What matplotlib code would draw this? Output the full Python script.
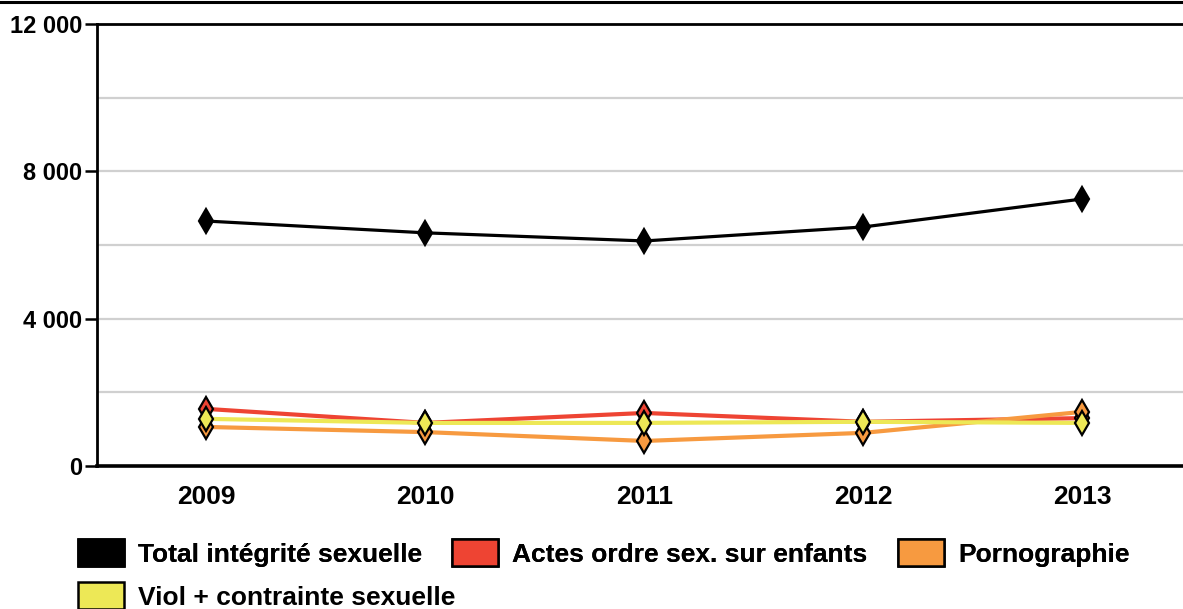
import matplotlib
matplotlib.use("Agg")
import matplotlib.pyplot as plt
from matplotlib.lines import Line2D
from matplotlib.patches import Patch

plt.rcParams["font.family"] = ["Liberation Sans", "DejaVu Sans"]
plt.rcParams["font.weight"] = "bold"

years = [2009, 2010, 2011, 2012, 2013]
total = [6650, 6330, 6110, 6490, 7250]
actes = [1550, 1170, 1440, 1200, 1300]
porno = [1060, 920, 680, 900, 1470]
viol = [1280, 1170, 1170, 1200, 1170]

names = [
    "Total intégrité sexuelle",
    "Actes ordre sex. sur enfants",
    "Pornographie",
    "Viol + contrainte sexuelle",
]
colors = ["#000000", "#ee4433", "#f79a40", "#ede856"]
y_ticks = [0, 4000, 8000, 12000]
y_labels = ["0", "4 000", "8 000", "12 000"]

W, H = 1183, 609
fig = plt.figure(figsize=(W / 100, H / 100), dpi=100)
ax = fig.add_axes([97 / W, 1 - 466 / H, 1095 / W, 442 / H])

series = [total, actes, porno, viol]
lws = [2.3, 3.0, 3.0, 3.0]
for i, (vals, col) in enumerate(zip(series, colors)):
    ax.plot(years, vals, color=col, lw=lws[i], marker="d", ms=12,
            markerfacecolor=col, markeredgecolor="black", markeredgewidth=1.6,
            zorder=5 - i if i == 0 else 2 + i)

ax.set_xlim(2008.5, 2013.5)
ax.set_ylim(0, 12000)
ax.set_xticks(years)
ax.set_xticklabels([str(y) for y in years], fontsize=19, fontweight="bold")
ax.set_yticks(y_ticks)
ax.set_yticklabels(y_labels, fontsize=17, fontweight="bold")
ax.tick_params(axis="x", length=0, pad=14)
ax.tick_params(axis="y", length=8.5, width=1.8, pad=2)

for g in [2000, 4000, 6000, 8000, 10000]:
    ax.axhline(g, color="#d0d0d0", lw=1.6, zorder=0)

for s in ["left", "bottom", "top"]:
    ax.spines[s].set_linewidth(2.0)
ax.spines["bottom"].set_linewidth(2.6)
ax.spines["right"].set_visible(False)

fig.add_artist(Line2D([0, 1], [1 - 1.5 / H, 1 - 1.5 / H],
                      transform=fig.transFigure, color="black", lw=2.2))

handles = [Patch(facecolor=c, edgecolor="black", linewidth=1.8) for c in colors]
kw = dict(frameon=False, handlelength=1.74, handleheight=1.2,
          handletextpad=0.53, columnspacing=1.15, borderpad=0, borderaxespad=0,
          loc="center left", prop={"weight": "bold", "size": 19})
leg1 = fig.legend(handles[:3], names[:3], ncol=3,
                  bbox_to_anchor=(78 / W, 1 - 553 / H), **kw)
fig.legend(handles[3:], names[3:], ncol=1,
           bbox_to_anchor=(78 / W, 1 - 596 / H), **kw)
fig.add_artist(leg1)

fig.savefig("out.png", dpi=100)
